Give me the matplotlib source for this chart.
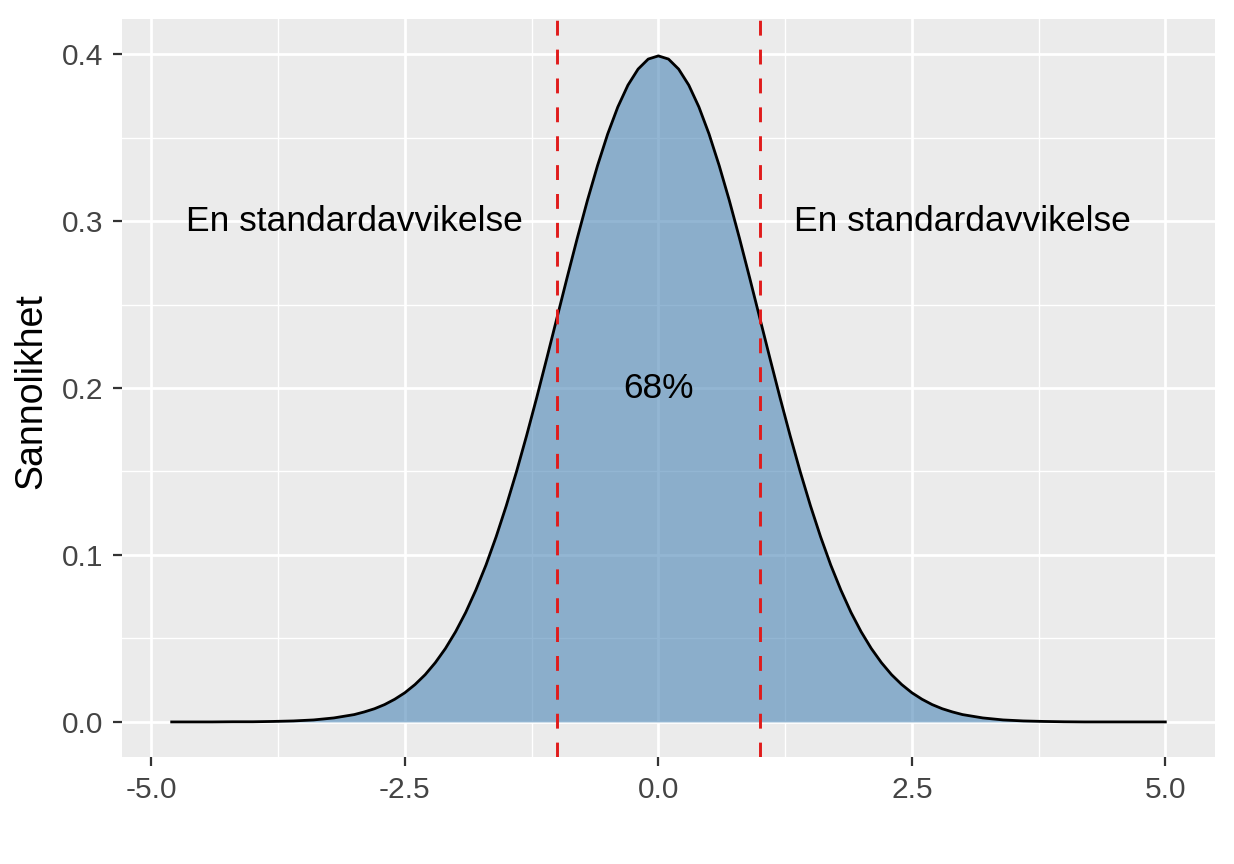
import matplotlib
matplotlib.use("Agg")
import matplotlib.pyplot as plt

plt.rcParams['font.family'] = ['Liberation Sans', 'DejaVu Sans']

# Density curve
x_vals = [-4.8, -4.6, -4.4, -4.2, -4.0, -3.8, -3.6, -3.4, -3.2, -3.0,
          -2.9, -2.8, -2.7, -2.6, -2.5, -2.4, -2.3, -2.2, -2.1, -2.0,
          -1.9, -1.8, -1.7, -1.6, -1.5, -1.4, -1.3, -1.2, -1.1, -1.0,
          -0.9, -0.8, -0.7, -0.6, -0.5, -0.4, -0.3, -0.2, -0.1, 0.0,
          0.1, 0.2, 0.3, 0.4, 0.5, 0.6, 0.7, 0.8, 0.9, 1.0,
          1.1, 1.2, 1.3, 1.4, 1.5, 1.6, 1.7, 1.8, 1.9, 2.0,
          2.1, 2.2, 2.3, 2.4, 2.5, 2.6, 2.7, 2.8, 2.9, 3.0,
          3.2, 3.4, 3.6, 3.8, 4.0, 4.2, 4.4, 4.6, 4.8, 5.0]
density = [0.0000, 0.0000, 0.0000, 0.0001, 0.0001, 0.0003, 0.0006, 0.0012, 0.0024, 0.0044,
           0.0060, 0.0079, 0.0104, 0.0136, 0.0175, 0.0224, 0.0283, 0.0355, 0.0440, 0.0540,
           0.0656, 0.0790, 0.0940, 0.1109, 0.1295, 0.1497, 0.1714, 0.1942, 0.2179, 0.2420,
           0.2661, 0.2897, 0.3123, 0.3332, 0.3521, 0.3683, 0.3814, 0.3910, 0.3970, 0.3989,
           0.3970, 0.3910, 0.3814, 0.3683, 0.3521, 0.3332, 0.3123, 0.2897, 0.2661, 0.2420,
           0.2179, 0.1942, 0.1714, 0.1497, 0.1295, 0.1109, 0.0940, 0.0790, 0.0656, 0.0540,
           0.0440, 0.0355, 0.0283, 0.0224, 0.0175, 0.0136, 0.0104, 0.0079, 0.0060, 0.0044,
           0.0024, 0.0012, 0.0006, 0.0003, 0.0001, 0.0000, 0.0000, 0.0000, 0.0000, 0.0000]

sd_lines = [-1.0, 1.0]
annotations = [(-3.0, 0.3, "En standardavvikelse"),
               (3.0, 0.3, "En standardavvikelse"),
               (0.0, 0.2, "68%")]
x_ticks = [-5.0, -2.5, 0.0, 2.5, 5.0]
x_tick_labels = ["-5.0", "-2.5", "0.0", "2.5", "5.0"]
y_ticks = [0.0, 0.1, 0.2, 0.3, 0.4]
y_tick_labels = ["0.0", "0.1", "0.2", "0.3", "0.4"]
y_label = "Sannolikhet"

fig = plt.figure(figsize=(12.34, 8.64), dpi=100)
ax = fig.add_axes([122/1234, 1 - 757/864, (1215-122)/1234, (757-19)/864])
ax.set_facecolor('#EBEBEB')
for s in ax.spines.values():
    s.set_visible(False)

ax.set_xlim(-5.29, 5.49)
ax.set_ylim(-0.021, 0.421)

ax.set_xticks(x_ticks)
ax.set_xticklabels(x_tick_labels)
ax.set_yticks(y_ticks)
ax.set_yticklabels(y_tick_labels)
ax.set_xticks([-3.75, -1.25, 1.25, 3.75], minor=True)
ax.set_yticks([0.05, 0.15, 0.25, 0.35], minor=True)

ax.grid(which='major', color='white', linewidth=2.0)
ax.grid(which='minor', color='white', linewidth=1.0)
ax.set_axisbelow(True)

ax.tick_params(axis='both', which='major', length=6.5, width=1.6, color='#333333',
               labelsize=21.5, labelcolor='#444444')
ax.tick_params(axis='x', which='major', pad=7)
ax.tick_params(axis='y', which='major', pad=7)
ax.tick_params(which='minor', length=0)

ax.fill_between(x_vals, 0, density, color='#4682B4', alpha=0.58, linewidth=0, zorder=2)
ax.plot(x_vals, density, color='black', linewidth=2.0, zorder=3, solid_joinstyle='round')

for xv in sd_lines:
    ax.axvline(xv, color='#E01B1B', linewidth=2.1, dashes=(5.1, 4.8), zorder=4)

for tx, ty, t in annotations:
    ax.text(tx, ty, t, ha='center', va='center', fontsize=25.5, color='black', zorder=5)

ax.set_ylabel(y_label, fontsize=27, color='black')
ax.yaxis.set_label_coords(-0.0668, 0.496)

fig.savefig('out.png', dpi=100, facecolor='white')
